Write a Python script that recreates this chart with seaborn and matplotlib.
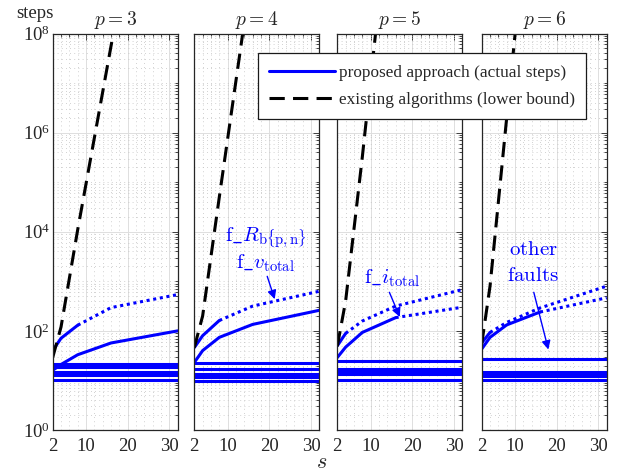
import numpy as np
import matplotlib
matplotlib.use('Agg')
import matplotlib.pyplot as plt
from matplotlib.lines import Line2D
from matplotlib.ticker import FixedLocator, MultipleLocator, LogLocator, NullFormatter
import seaborn as sns

# values
s_vals = [2, 4, 8, 16, 32]
p_vals = [3, 4, 5, 6]

# existing algorithms (lower bound)
lower_p3 = [29, 120, 1.1e4, 5.6e7, 1.3e15]
lower_p4 = [46, 200, 5.0e4, 2.5e9, 1e19]
lower_p5 = [49, 400, 3.2e5, 6.0e11, 1e23]
lower_p6 = [54, 800, 2.0e6, 1.0e13, 1e26]

# proposed approach, upper curve (f_R / f_v_total)
upper_p3 = [40, 71, 130, 295, 540]
upper_p4 = [46, 80, 162, 316, 630]
upper_p5 = [50, 89, 158, 316, 680]
upper_p6 = [57, 93, 148, 290, 800]
upper_solid_until = [8, 8, 4, 4]

# proposed approach, second curve (f_i_total)
second_p3 = [16, 21, 33, 57, 100]
second_p4 = [23, 40, 74, 135, 260]
second_p5 = [29, 47, 93, 185, 300]
second_p6 = [43, 74, 132, 240, 465]
second_solid_until = [32, 32, 16, 16]

# other faults (flat)
flat_p3 = [21.4, 18.7, 15.1, 12.6, 10.0]
flat_p4 = [22.7, 16.8, 13.6, 11.6, 9.7]
flat_p5 = [24.3, 16.8, 14.8, 13.3, 10.0]
flat_p6 = [26.5, 14.8, 13.8, 12.5, 10.2]

lowers = [lower_p3, lower_p4, lower_p5, lower_p6]
uppers = [upper_p3, upper_p4, upper_p5, upper_p6]
seconds = [second_p3, second_p4, second_p5, second_p6]
flats = [flat_p3, flat_p4, flat_p5, flat_p6]

sns.set_style('white')
plt.rcParams['font.family'] = ['Liberation Serif', 'DejaVu Serif']
plt.rcParams['mathtext.fontset'] = 'custom'
plt.rcParams['mathtext.rm'] = 'Liberation Serif'
plt.rcParams['mathtext.it'] = 'Liberation Serif:italic'

LW = 2.2
DOT = (0, (1, 1.2))
DASH = (0, (5, 2.7))

def draw_curve(ax, y, solid_until):
    x = np.array(s_vals)
    y = np.array(y, dtype=float)
    solid = x <= solid_until
    dotted = x >= solid_until
    sns.lineplot(x=x[solid], y=y[solid], ax=ax, color='blue', lw=LW, errorbar=None)
    if dotted.sum() > 1:
        sns.lineplot(x=x[dotted], y=y[dotted], ax=ax, color='blue', lw=LW,
                     linestyle=DOT, errorbar=None)

W, H = 625, 472
fig = plt.figure(figsize=(W / 100, H / 100), dpi=100)
lefts = [52.7, 194.3, 337.3, 481.7]
axes = []
for i, p in enumerate(p_vals):
    ax = fig.add_axes([lefts[i] / W, 1 - 430 / H, 125 / W, 396.5 / H])
    axes.append(ax)
    ax.set_yscale('log')

    for lvl in flats[i]:
        sns.lineplot(x=s_vals, y=[lvl] * len(s_vals), ax=ax, color='blue', lw=LW, errorbar=None)
    draw_curve(ax, seconds[i], second_solid_until[i])
    draw_curve(ax, uppers[i], upper_solid_until[i])
    sns.lineplot(x=s_vals, y=lowers[i], ax=ax, color='black', lw=LW,
                 linestyle=DASH, errorbar=None)

    ax.set_xlim(2, 32)
    ax.set_ylim(1, 1e8)
    ax.xaxis.set_major_locator(FixedLocator([2, 10, 20, 30]))
    ax.xaxis.set_minor_locator(MultipleLocator(2))
    ax.yaxis.set_major_locator(FixedLocator([1e0, 1e2, 1e4, 1e6, 1e8]))
    ax.yaxis.set_minor_locator(LogLocator(base=10, subs=np.arange(1, 10), numticks=100))
    ax.yaxis.set_minor_formatter(NullFormatter())
    ax.set_axisbelow(True)
    ax.grid(which='major', color='0.87', lw=0.7, ls='-')
    ax.grid(which='minor', color='0.76', lw=0.6, ls=(0, (1, 4)))
    ax.tick_params(which='both', direction='in', top=True, right=True, color='0.15', width=0.6)
    ax.tick_params(which='major', length=4, labelsize=13.5)
    ax.tick_params(which='minor', length=2.3)
    ax.tick_params(axis='x', pad=6)
    ax.tick_params(axis='y', pad=2, labelleft=(i == 0))
    for sp in ax.spines.values():
        sp.set_color('0.15')
        sp.set_linewidth(0.9)
    ax.set_xlabel('')
    ax.set_ylabel('')
    ax.set_title(f'$p = {p}$', fontsize=14, math_fontfamily='cm', pad=6)

blue = 'blue'
arrow = dict(arrowstyle='-|>', color=blue, lw=1.0, mutation_scale=13, shrinkA=0, shrinkB=0)

ax = axes[1]
ax.text(19.2, 10 ** 3.89, r'$\mathrm{f\_}R_{\mathrm{b\{p,n\}}}$', color=blue, fontsize=15,
        ha='center', va='center', math_fontfamily='cm')
ax.text(19.2, 10 ** 3.36, r'$\mathrm{f\_}v_{\mathrm{total}}$', color=blue, fontsize=15,
        ha='center', va='center', math_fontfamily='cm')
ax.annotate('', xy=(21.3, 436), xytext=(19.5, 1260), arrowprops=arrow)

ax = axes[2]
ax.text(15.2, 10 ** 3.06, r'$\mathrm{f\_}i_{\mathrm{total}}$', color=blue, fontsize=15,
        ha='center', va='center', math_fontfamily='cm')
ax.annotate('', xy=(17.0, 191), xytext=(14.5, 600), arrowprops=arrow)

ax = axes[3]
ax.text(14.3, 10 ** 3.63, r'$\mathrm{other}$', color=blue, fontsize=15,
        ha='center', va='center', math_fontfamily='cm')
ax.text(14.4, 10 ** 3.1, r'$\mathrm{faults}$', color=blue, fontsize=15,
        ha='center', va='center', math_fontfamily='cm')
ax.annotate('', xy=(18.0, 42), xytext=(14.5, 600), arrowprops=arrow)

fig.text(35 / W, 1 - 13 / H, 'steps', ha='center', va='center', fontsize=13.5)
fig.text(322 / W, 1 - 463 / H, '$s$', ha='center', va='center', fontsize=16, math_fontfamily='cm')

handles = [Line2D([], [], color='blue', lw=LW),
           Line2D([], [], color='black', lw=LW, linestyle=DASH)]
labels = ['proposed approach (actual steps)', 'existing algorithms (lower bound)']
leg = fig.legend(handles, labels, loc='upper left', bbox_to_anchor=(258.3 / W, 1 - 53.3 / H),
                 borderaxespad=0, fontsize=12.4, handlelength=3.8, handletextpad=0.25,
                 labelspacing=0.65, borderpad=0.65, fancybox=False, framealpha=1,
                 edgecolor='0.1')
leg.get_frame().set_linewidth(0.9)

fig.savefig('out.png', dpi=100)
